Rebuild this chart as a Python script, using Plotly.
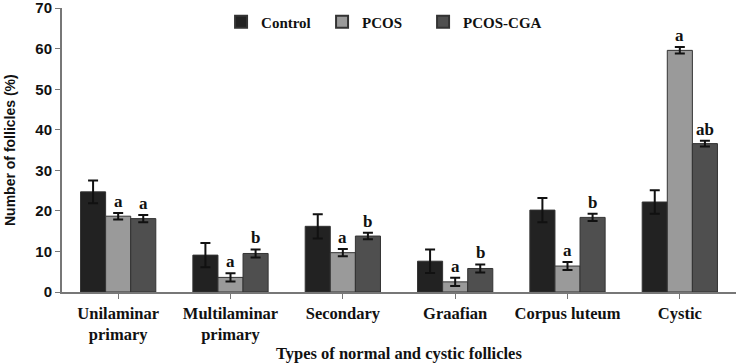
import plotly.graph_objects as go

categories = ["Unilaminar<br>primary", "Multilaminar<br>primary", "Secondary", "Graafian", "Corpus luteum", "Cystic"]
series_names = ["Control", "PCOS", "PCOS-CGA"]
control = [24.7, 9.1, 16.2, 7.6, 20.2, 22.2]
control_err = [2.8, 3.0, 3.0, 2.9, 3.0, 2.9]
pcos = [18.7, 3.6, 9.7, 2.5, 6.4, 59.6]
pcos_err = [0.8, 1.0, 0.9, 1.0, 1.0, 0.8]
cga = [18.1, 9.5, 13.8, 5.8, 18.4, 36.6]
cga_err = [0.9, 1.0, 0.8, 1.0, 0.9, 0.7]
pcos_letters = ["a", "a", "a", "a", "a", "a"]
cga_letters = ["a", "b", "b", "b", "b", "ab"]
y_ticks = [0, 10, 20, 30, 40, 50, 60, 70]

colors = ["#222222", "#9a9a9a", "#4f4f4f"]
serif = "Liberation Serif"
sans = "Liberation Sans"

fig = go.Figure()
for name, vals, errs, col in zip(series_names, [control, pcos, cga], [control_err, pcos_err, cga_err], colors):
    fig.add_trace(go.Bar(
        x=categories, y=vals, name="<b>" + name + "</b>",
        marker=dict(color=col, line=dict(color="#333333", width=1)),
        error_y=dict(type="data", array=errs, visible=True, color="#111111", thickness=2, width=5),
    ))
# invisible spacer entry so the last legend label is not clipped
fig.add_trace(go.Scatter(x=[None], y=[None], mode="markers", name=" ",
                         marker=dict(color="rgba(0,0,0,0)", size=1, line=dict(width=0)),
                         hoverinfo="skip", showlegend=True))

annotations = []
for i, cat in enumerate(categories):
    for letters, vals, errs, shift in [(pcos_letters, pcos, pcos_err, 0), (cga_letters, cga, cga_err, 25)]:
        annotations.append(dict(
            x=cat, y=vals[i] + errs[i], xref="x", yref="y", text="<b>" + letters[i] + "</b>",
            showarrow=False, xshift=shift, yanchor="bottom", yshift=0,
            font=dict(family=serif, size=17, color="#111111"),
        ))
annotations.append(dict(
    x=0.5, y=-(353 - 292) / 284, xref="paper", yref="paper", yanchor="middle",
    text="<b>Types of normal and cystic follicles</b>", showarrow=False,
    font=dict(family=serif, size=16.5, color="#111111"),
))
annotations.append(dict(
    x=(10 - 62) / 674, y=0.5, xref="paper", yref="paper", xanchor="center",
    text="<b>Number of follicles (%)</b>", showarrow=False, textangle=-90,
    font=dict(family=sans, size=14, color="#111111"),
))

fig.update_layout(
    width=750, height=363,
    margin=dict(l=62, r=14, t=8, b=71, autoexpand=False),
    plot_bgcolor="white", paper_bgcolor="white",
    barmode="group", bargap=0.33, bargroupgap=0,
    showlegend=True,
    legend=dict(orientation="h", x=0.236, xanchor="left", y=(292 - 22) / 284, yanchor="middle", yref="paper",
                font=dict(family=serif, size=15, color="#111111"),
                itemwidth=30, entrywidth=56, itemsizing="constant"),
    annotations=annotations,
    xaxis=dict(
        automargin=False,
        showline=True, linecolor="#777777", linewidth=2,
        ticks="outside", ticklen=5, tickcolor="#777777",
        tickfont=dict(family=serif, size=16.5, color="#111111"),
        tickvals=categories, ticktext=["<b>" + c + "</b>" for c in categories],
    ),
    yaxis=dict(
        automargin=False,
        range=[0, 70.05], tickvals=y_ticks, ticktext=["<b>%d</b>" % v for v in y_ticks],
        ticklabeloverflow="allow",
        showgrid=False, zeroline=False,
        showline=True, linecolor="#777777", linewidth=2,
        ticks="outside", ticklen=5, tickcolor="#777777",
        tickfont=dict(family=sans, size=15, color="#111111"),
    ),
)

fig.write_html("out.html", config={"displayModeBar": False},
               post_script="document.body.style.margin='0';")
